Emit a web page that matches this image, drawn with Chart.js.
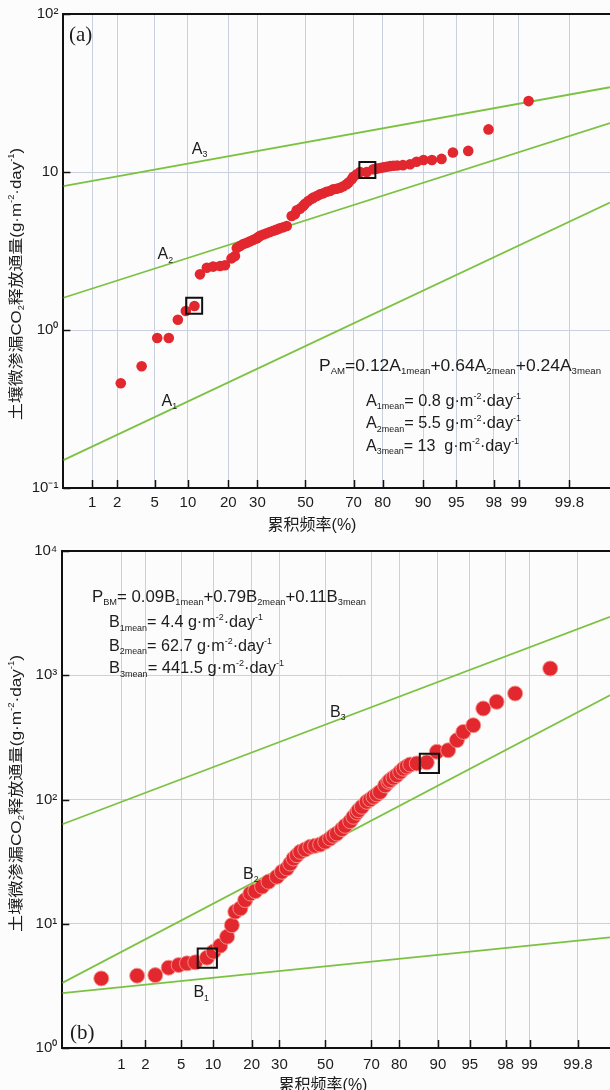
<!DOCTYPE html>
<html>
<head>
<meta charset="utf-8">
<script src="https://cdn.jsdelivr.net/npm/chart.js@4"></script>
<style>
  html, body { margin: 0; padding: 0; background: #fcfcfc; }
  #wrap { width: 610px; height: 1090px; overflow: hidden; position: relative; }
  canvas { position: absolute; left: 0; }
</style>
</head>
<body>
<div id="wrap">
  <canvas id="chartA" width="610" height="540" style="top:0"></canvas>
  <canvas id="chartB" width="610" height="550" style="top:540px"></canvas>
</div>
<script>
// ---- data (cumulative frequency in %, flux in g·m-2·day-1) ----
const probTicks = [1, 2, 5, 10, 20, 30, 50, 70, 80, 90, 95, 98, 99, 99.8];

// panel (a)
const aPct = [2.2, 3.7, 5.3, 6.8, 8.2, 9.6, 11.3, 12.5, 14.1, 15.7, 17.6, 19.0, 21.0, 22.1, 22.7, 23.8, 24.9, 26.1, 27.3, 28.5,
  29.7, 30.3, 31.0, 32.3, 33.6, 34.9, 36.3, 37.7, 39.0, 40.4, 41.9, 44.0, 45.4, 46.2, 47.6, 49.0, 49.8, 51.2, 52.7, 53.4,
  54.9, 56.3, 57.7, 59.1, 60.5, 61.9, 63.3, 64.7, 66.0, 67.3, 68.0, 69.3, 69.9, 71.2, 72.4, 74.8, 77.0, 78.1, 79.2, 80.2,
  81.2, 82.2, 83.1, 84.1, 85.6, 87.3, 88.7, 90.1, 91.6, 93.1, 94.6, 96.2, 97.7, 99.25];
const aVal = [0.46, 0.59, 0.89, 0.89, 1.16, 1.32, 1.42, 2.25, 2.48, 2.52, 2.54, 2.57, 2.84, 2.94, 3.3, 3.4, 3.5, 3.56, 3.64, 3.72,
  3.8, 3.86, 3.94, 4.02, 4.1, 4.17, 4.25, 4.32, 4.4, 4.47, 4.55, 5.27, 5.4, 5.72, 5.86, 6.1, 6.3, 6.55, 6.77, 6.88,
  7.05, 7.22, 7.33, 7.5, 7.58, 7.77, 7.84, 7.95, 8.12, 8.36, 8.56, 8.99, 9.34, 9.67, 10.0, 10.0, 10.4, 10.5, 10.6, 10.7,
  10.8, 10.9, 10.95, 11.0, 11.05, 11.2, 11.6, 11.9, 11.9, 12.1, 13.3, 13.6, 18.6, 28.1];
const aBoxPct = [11.24, 75.0];
const aBoxVal = [1.425, 10.3];
const aEdgePct = [0.415, 99.955];
const aLine1 = [0.150, 6.4];
const aLine2 = [1.6, 20.4];
const aLine3 = [8.15, 34.4];
const aYTicks = [0.1, 1, 10, 100];
const aYLabels = ['10⁻¹', '10⁰', '10', '10²'];

// panel (b)
const bPct = [0.53, 1.59, 2.62, 3.69, 4.71, 5.72, 6.89, 8.84, 10.1, 11.5, 13.1, 14.3, 15.2, 16.6, 18.0, 19.6, 21.2, 23.5, 25.8, 29.0,
  31.0, 33.0, 34.4, 35.8, 37.2, 38.7, 40.9, 43.1, 45.3, 47.6, 49.9, 52.1, 53.6, 55.2, 57.4, 58.9, 61.1, 62.5, 64.0, 64.7,
  66.1, 68.1, 69.5, 70.8, 72.1, 73.3, 75.2, 76.35, 76.9, 78.1, 79.2, 80.3, 81.3, 82.3, 83.3, 85.1, 87.6, 89.8, 91.9, 93.3,
  94.2, 95.4, 96.4, 97.45, 98.47, 99.48];
const bVal = [3.63, 3.82, 3.86, 4.43, 4.65, 4.80, 4.89, 5.33, 5.96, 6.66, 7.86, 9.74, 12.5, 13.3, 15.5, 17.5, 18.3, 19.9, 21.8, 23.9,
  26.2, 27.9, 30.5, 33.5, 35.6, 37.9, 39.6, 41.6, 42.4, 43.4, 45.7, 48.5, 51.1, 53.2, 57.7, 61.4, 66.9, 72.6, 78.5, 82.0,
  87.3, 95.8, 100, 105, 110, 115, 130, 139, 143, 150, 157, 167, 177, 184, 191, 195, 199, 242, 249, 300,
  350, 396, 540, 611, 713, 1133];
const bBoxPct = [8.9, 88.2];
const bBoxVal = [5.29, 195];
const bEdgePct = [0.135, 99.941];
const bLine1 = [2.77, 7.78];
const bLine2 = [3.34, 690];
const bLine3 = [63.2, 2955];
const bYTicks = [1, 10, 100, 1000, 10000];
const bYLabels = ['10⁰', '10¹', '10²', '10³', '10⁴'];

const RED = '#e2272f';
const GREEN = '#7cc242';
const GRID = '#cad0de';
const INK = '#1c1c1c';
const SANS = "'Liberation Sans', Arial, 'Noto Sans CJK SC', sans-serif";

// inverse normal CDF (Acklam), used to place % on a probability axis
function probit(p) {
  const a = [-3.969683028665376e+01, 2.209460984245205e+02, -2.759285104469687e+02, 1.383577518672690e+02, -3.066479806614716e+01, 2.506628277459239e+00];
  const b = [-5.447609879822406e+01, 1.615858368580409e+02, -1.556989798598866e+02, 6.680131188771972e+01, -1.328068155288572e+01];
  const c = [-7.784894002430293e-03, -3.223964580411365e-01, -2.400758277161838e+00, -2.549732539343734e+00, 4.374664141464968e+00, 2.938163982698783e+00];
  const d = [7.784695709041462e-03, 3.224671290700398e-01, 2.445134137142996e+00, 3.754408661907416e+00];
  const pl = 0.02425;
  let q, r;
  if (p < pl) {
    q = Math.sqrt(-2 * Math.log(p));
    return (((((c[0]*q+c[1])*q+c[2])*q+c[3])*q+c[4])*q+c[5]) / ((((d[0]*q+d[1])*q+d[2])*q+d[3])*q+1);
  }
  if (p > 1 - pl) {
    q = Math.sqrt(-2 * Math.log(1 - p));
    return -(((((c[0]*q+c[1])*q+c[2])*q+c[3])*q+c[4])*q+c[5]) / ((((d[0]*q+d[1])*q+d[2])*q+d[3])*q+1);
  }
  q = p - 0.5; r = q * q;
  return (((((a[0]*r+a[1])*r+a[2])*r+a[3])*r+a[4])*r+a[5])*q / (((((b[0]*r+b[1])*r+b[2])*r+b[3])*r+b[4])*r+1);
}

function pts(pct, val) {
  return pct.map((p, i) => ({ x: probit(p / 100), y: val[i] }));
}

// text with sub/superscripts; optional target width stretches it horizontally
function drawRich(ctx, parts, x, y, size, width, center) {
  const fontOf = k => (k === 'n' ? size : size * 0.55) + 'px ' + SANS;
  let w0 = 0;
  parts.forEach(([t, k]) => { ctx.font = fontOf(k); w0 += ctx.measureText(t).width; });
  const sx = width ? width / w0 : 1;
  ctx.save();
  ctx.translate(x, y);
  ctx.scale(sx, 1);
  let cx = center ? -w0 / 2 : 0;
  ctx.textBaseline = 'alphabetic';
  ctx.textAlign = 'left';
  parts.forEach(([t, k]) => {
    ctx.font = fontOf(k);
    const dy = k === 'sub' ? size * 0.2 : k === 'sup' ? -size * 0.45 : 0;
    ctx.fillText(t, cx, dy);
    cx += ctx.measureText(t).width;
  });
  ctx.restore();
}

const decor = {
  id: 'decor',
  afterDraw(chart, args, o) {
    const ctx = chart.ctx, ca = chart.chartArea;
    const xs = chart.scales.x, ys = chart.scales.y;
    ctx.save();
    ctx.strokeStyle = '#111';
    ctx.lineWidth = 2;
    ctx.beginPath();
    ctx.moveTo(ca.left - 1, ca.top);
    ctx.lineTo(ca.right, ca.top);
    ctx.stroke();
    // inward tick marks
    ctx.lineWidth = 1.5;
    xs.ticks.forEach(t => {
      const px = Math.round(xs.getPixelForValue(t.value)) + 0.5;
      ctx.beginPath(); ctx.moveTo(px, ca.bottom); ctx.lineTo(px, ca.bottom - 8); ctx.stroke();
    });
    ys.ticks.forEach(t => {
      const py = Math.round(ys.getPixelForValue(t.value)) + 0.5;
      ctx.beginPath(); ctx.moveTo(ca.left, py); ctx.lineTo(ca.left + 7, py); ctx.stroke();
    });
    ctx.fillStyle = INK;
    // panel tag
    ctx.font = "21px 'Liberation Serif', 'Times New Roman', serif";
    ctx.textAlign = 'left';
    ctx.textBaseline = 'alphabetic';
    ctx.fillText(o.tag.text, o.tag.x, o.tag.y);
    // line labels
    o.labels.forEach(l => drawRich(ctx, [[l.t, 'n'], [l.s, 'sub']], l.x, l.y, 16));
    // formulas
    o.notes.forEach(n => drawRich(ctx, n.parts, n.x, n.y, 16, n.w));
    // axis titles
    drawRich(ctx, [['累积频率(%)', 'n']], o.xTitle.x, o.xTitle.y, 16, 0, true);
    ctx.save();
    ctx.translate(o.yTitle.x, o.yTitle.y);
    ctx.rotate(-Math.PI / 2);
    drawRich(ctx, [['土壤微渗漏CO', 'n'], ['2', 'sub'], ['释放通量(g·m', 'n'], ['-2', 'sup'], ['·day', 'n'], ['-1', 'sup'], [')', 'n']],
      -o.yTitle.w / 2, 0, 15, o.yTitle.w);
    ctx.restore();
    ctx.restore();
  }
};

function makeChart(id, cfg) {
  return new Chart(document.getElementById(id), {
    type: 'scatter',
    data: {
      datasets: [
        { data: pts(cfg.boxPct, cfg.boxVal), pointStyle: 'rect', pointRadius: cfg.boxR, backgroundColor: 'rgba(0,0,0,0)',
          borderColor: '#111', borderWidth: 2, pointHoverRadius: cfg.boxR },
        { data: pts(cfg.pct, cfg.val), pointRadius: cfg.dotR, backgroundColor: RED,
          borderColor: cfg.dotEdge, borderWidth: cfg.dotEdge ? 1 : 0, pointHoverRadius: cfg.dotR },
        ...cfg.lines.map(l => ({ data: pts(cfg.edge, l), showLine: true, borderColor: GREEN, borderWidth: 1.8,
          pointRadius: 0, pointHoverRadius: 0 }))
      ]
    },
    options: {
      responsive: false,
      devicePixelRatio: 1,
      animation: false,
      events: [],
      layout: { autoPadding: false, padding: { top: cfg.top, right: 0, left: 0, bottom: 0 } },
      plugins: { legend: { display: false }, tooltip: { enabled: false }, decor: cfg.decor },
      scales: {
        x: {
          type: 'linear',
          min: probit(cfg.edge[0] / 100),
          max: probit(cfg.edge[1] / 100),
          afterBuildTicks: s => { s.ticks = probTicks.map(p => ({ value: probit(p / 100) })); },
          afterFit: s => { s.height = cfg.xH; s.paddingLeft = 0; s.paddingRight = 0; },
          ticks: {
            autoSkip: false, maxRotation: 0, padding: cfg.xPad, color: INK,
            font: { family: SANS, size: 15 },
            callback: (v, i) => String(probTicks[i])
          },
          grid: { color: GRID, lineWidth: 1, drawTicks: false },
          border: { color: '#111', width: 2 }
        },
        y: {
          type: 'logarithmic',
          min: cfg.yTicks[0],
          max: cfg.yTicks[cfg.yTicks.length - 1],
          afterBuildTicks: s => { s.ticks = cfg.yTicks.map(v => ({ value: v })); },
          afterFit: s => { s.width = cfg.yW; s.paddingTop = 0; s.paddingBottom = 0; },
          ticks: {
            autoSkip: false, padding: 5, color: INK,
            font: { family: SANS, size: 15 },
            callback: (v, i) => cfg.yLabels[i]
          },
          grid: { color: GRID, lineWidth: 1, drawTicks: false },
          border: { color: '#111', width: 2 }
        }
      }
    },
    plugins: [decor]
  });
}

makeChart('chartA', {
  pct: aPct, val: aVal, boxPct: aBoxPct, boxVal: aBoxVal, edge: aEdgePct,
  lines: [aLine1, aLine2, aLine3], yTicks: aYTicks, yLabels: aYLabels,
  dotR: 5.3, dotEdge: null, boxR: 11.3, top: 14, xH: 52, yW: 63.4, xPad: 6,
  decor: {
    tag: { text: '(a)', x: 69, y: 41 },
    labels: [
      { t: 'A', s: '3', x: 191.8, y: 154 },
      { t: 'A', s: '2', x: 157.6, y: 259.3 },
      { t: 'A', s: '1', x: 161.5, y: 406 }
    ],
    notes: [
      { parts: [['P', 'n'], ['AM', 'sub'], ['=0.12A', 'n'], ['1mean', 'sub'], ['+0.64A', 'n'], ['2mean', 'sub'], ['+0.24A', 'n'], ['3mean', 'sub']],
        x: 319, y: 370.7, w: 282 },
      { parts: [['A', 'n'], ['1mean', 'sub'], ['= 0.8 g·m', 'n'], ['-2', 'sup'], ['·day', 'n'], ['-1', 'sup']], x: 366, y: 406, w: 155 },
      { parts: [['A', 'n'], ['2mean', 'sub'], ['= 5.5 g·m', 'n'], ['-2', 'sup'], ['·day', 'n'], ['-1', 'sup']], x: 366, y: 428.3, w: 155 },
      { parts: [['A', 'n'], ['3mean', 'sub'], ['= 13  g·m', 'n'], ['-2', 'sup'], ['·day', 'n'], ['-1', 'sup']], x: 366, y: 451, w: 153 }
    ],
    xTitle: { x: 312, y: 529.5 },
    yTitle: { x: 21, y: 284, w: 272 }
  }
});

makeChart('chartB', {
  pct: bPct, val: bVal, boxPct: bBoxPct, boxVal: bBoxVal, edge: bEdgePct,
  lines: [bLine1, bLine2, bLine3], yTicks: bYTicks, yLabels: bYLabels,
  dotR: 7.5, dotEdge: 'rgba(245,150,140,0.9)', boxR: 13.6, top: 11, xH: 42, yW: 62.3, xPad: 8,
  decor: {
    tag: { text: '(b)', x: 70, y: 499 },
    labels: [
      { t: 'B', s: '3', x: 330, y: 176.7 },
      { t: 'B', s: '2', x: 243, y: 339 },
      { t: 'B', s: '1', x: 193.4, y: 457.3 }
    ],
    notes: [
      { parts: [['P', 'n'], ['BM', 'sub'], ['= 0.09B', 'n'], ['1mean', 'sub'], ['+0.79B', 'n'], ['2mean', 'sub'], ['+0.11B', 'n'], ['3mean', 'sub']],
        x: 92, y: 61.7, w: 274 },
      { parts: [['B', 'n'], ['1mean', 'sub'], ['= 4.4 g·m', 'n'], ['-2', 'sup'], ['·day', 'n'], ['-1', 'sup']], x: 109, y: 87.3, w: 154 },
      { parts: [['B', 'n'], ['2mean', 'sub'], ['= 62.7 g·m', 'n'], ['-2', 'sup'], ['·day', 'n'], ['-1', 'sup']], x: 109, y: 111, w: 163 },
      { parts: [['B', 'n'], ['3mean', 'sub'], ['= 441.5 g·m', 'n'], ['-2', 'sup'], ['·day', 'n'], ['-1', 'sup']], x: 109, y: 133.3, w: 175 }
    ],
    xTitle: { x: 323, y: 549.5 },
    yTitle: { x: 21, y: 253.5, w: 277 }
  }
});
</script>
</body>
</html>
